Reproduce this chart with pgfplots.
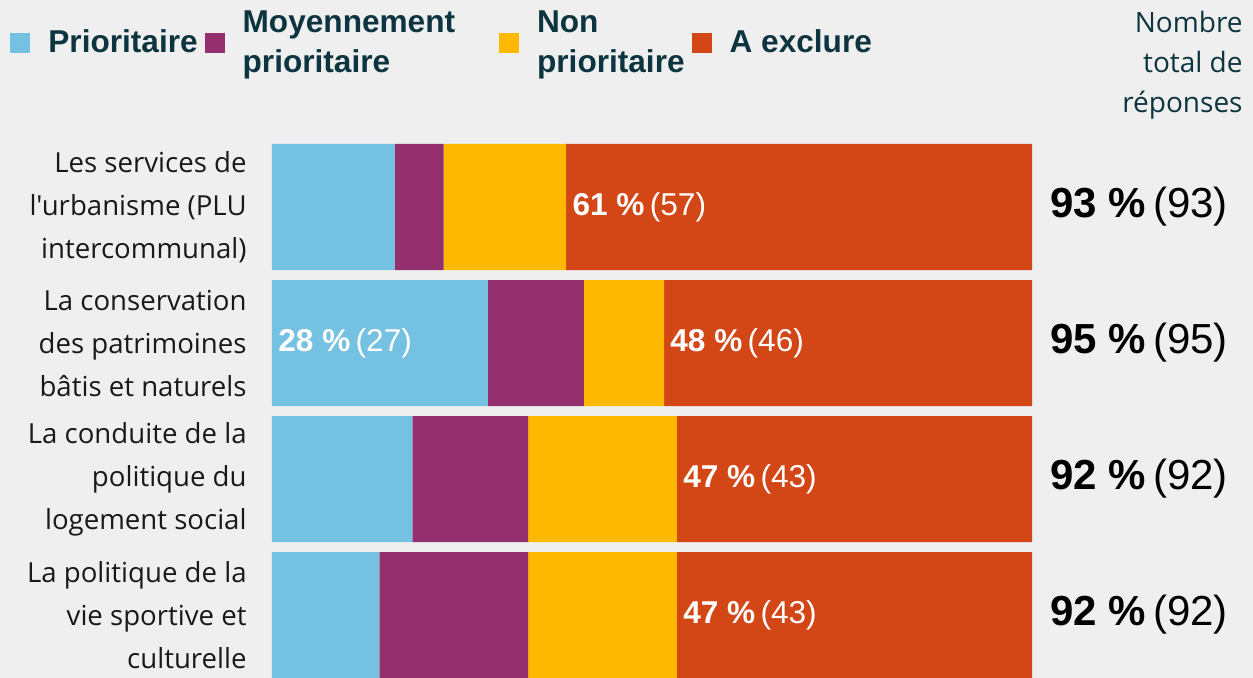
\documentclass[border=0pt]{standalone}
\usepackage{pgfplots}
\pgfplotsset{compat=1.18}
\usepackage{pgfplotstable}
\usepackage{fontspec}
\setmainfont{Liberation Sans}
\newfontfamily\catfont{Open Sans}

\definecolor{bg}{HTML}{EFEFEF}
\definecolor{cprio}{HTML}{75C1E1}
\definecolor{cmoy}{HTML}{94306E}
\definecolor{cnon}{HTML}{FFB800}
\definecolor{cexcl}{HTML}{D34616}
\definecolor{dteal}{HTML}{0D3540}

\pgfplotsset{sq/.style={legend image code/.code={\fill[#1] (0pt,-5pt) rectangle (10pt,5pt);}}}
\tikzset{
    labin/.style={anchor=west, inner sep=0pt, xshift=3pt, text=white,
        font=\fontsize{15.8}{18}\selectfont},
    labtot/.style={anchor=west, inner sep=0pt, xshift=9pt,
        font=\fontsize{21}{24}\selectfont}}

% parts of the answers, in % of all answers (row 0 = top bar)
\pgfplotstableread{
row prio  moy   non   excl
0   16.13 6.45  16.13 61.29
1   28.42 12.63 10.53 48.42
2   18.48 15.22 19.57 46.74
3   14.13 19.57 19.57 46.74
}\partsdata

\begin{document}
\begin{tikzpicture}
\fill[bg] (-136pt,0) rectangle (490.5pt,339pt);
\begin{axis}[
    at={(0,0)}, anchor=south west,
    scale only axis,
    width=380pt, height=269.5pt,
    xbar stacked, bar width=63pt,
    xmin=0, xmax=100,
    ymin=-0.5, ymax=3.463,
    y dir=reverse,
    axis line style={draw=none},
    xtick=\empty,
    ytick={0,1,2,3},
    yticklabels={
        {Les services de\\l'urbanisme (PLU\\intercommunal)},
        {La conservation\\des patrimoines\\bâtis et naturels},
        {La conduite de la\\politique du\\logement social},
        {La politique de la\\vie sportive et\\culturelle}},
    major tick length=0pt,
    yticklabel style={font=\catfont\fontsize{13.8}{21.5}\selectfont,
        align=right, inner sep=0pt, xshift=-12.5pt, text=black!90},
    clip=false,
    legend columns=4,
    legend style={draw=none, fill=none,
        at={(axis description cs:0,1)}, anchor=west,
        xshift=-131pt, yshift=48pt,
        font=\fontsize{15.8}{20}\selectfont\bfseries, text=dteal,
        cells={align=left, anchor=west},
        inner sep=0pt,
        /tikz/every odd column/.append style={column sep=7pt},
        /tikz/every even column/.append style={column sep=1.5pt}},
]
\addplot[fill=cprio, draw=none, sq] table[x=prio, y=row] {\partsdata};
\addlegendentry{Prioritaire}
\addplot[fill=cmoy, draw=none, sq] table[x=moy, y=row] {\partsdata};
\addlegendentry{Moyennement\kern18.5pt\\prioritaire}
\addplot[fill=cnon, draw=none, sq] table[x=non, y=row] {\partsdata};
\addlegendentry{Non\\prioritaire}
\addplot[fill=cexcl, draw=none, sq] table[x=excl, y=row] {\partsdata};
\addlegendentry{A exclure}

% anchors of the labels inside the bars (start of a segment)
\coordinate (in1) at (axis cs:38.71,0);
\coordinate (in2a) at (axis cs:0,1);
\coordinate (in2b) at (axis cs:51.58,1);
\coordinate (in3) at (axis cs:53.27,2);
\coordinate (in4) at (axis cs:53.27,3);

% totals right of the bars
\node[labtot] at (axis cs:100,0) {\textbf{93 \%}\,(93)};
\node[labtot] at (axis cs:100,1) {\textbf{95 \%}\,(95)};
\node[labtot] at (axis cs:100,2) {\textbf{92 \%}\,(92)};
\node[labtot] at (axis cs:100,3) {\textbf{92 \%}\,(92)};

\node[anchor=north east, align=right, inner sep=0pt, text=dteal,
    font=\catfont\fontsize{14}{20}\selectfont]
    at ([xshift=105.5pt, yshift=64pt]axis description cs:1,1)
    {Nombre\\total de\\réponses};
\end{axis}
\node[labin] at (in1) {\textbf{61 \%}\,(57)};
\node[labin] at (in2a) {\textbf{28 \%}\,(27)};
\node[labin] at (in2b) {\textbf{48 \%}\,(46)};
\node[labin] at (in3) {\textbf{47 \%}\,(43)};
\node[labin] at (in4) {\textbf{47 \%}\,(43)};
\pgfresetboundingbox
\path (-136pt,0) rectangle (490.5pt,339pt);
\end{tikzpicture}
\end{document}
